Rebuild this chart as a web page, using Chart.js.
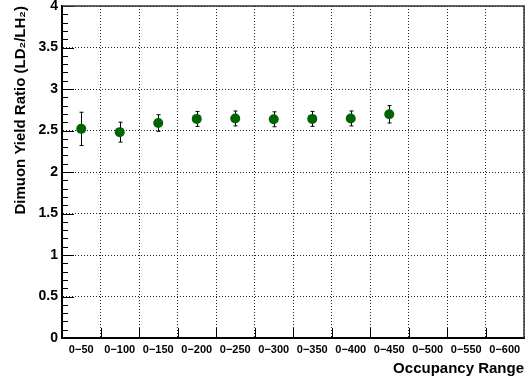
<!DOCTYPE html>
<html>
<head>
<meta charset="utf-8">
<script src="https://cdn.jsdelivr.net/npm/chart.js@4/dist/chart.umd.min.js"></script>
<style>
  html, body { margin: 0; padding: 0; background: #fff; }
  #wrap { width: 532px; height: 378px; }
</style>
</head>
<body>
<div id="wrap"><canvas id="ratio"></canvas></div>
<script>
const ranges = ["0\u221250", "0\u2212100", "0\u2212150", "0\u2212200", "0\u2212250", "0\u2212300",
                "0\u2212350", "0\u2212400", "0\u2212450", "0\u2212500", "0\u2212550", "0\u2212600"];
const yieldRatio = [2.52, 2.48, 2.59, 2.64, 2.645, 2.635, 2.64, 2.645, 2.695];
const ratioErr = [0.20, 0.12, 0.10, 0.09, 0.09, 0.09, 0.09, 0.09, 0.105];

const green = "#006400";
const fontFamily = "'Liberation Sans', Arial, sans-serif";

// ROOT style frame, inner ticks and error bars
const rootFrame = {
  id: "rootFrame",
  beforeDatasetsDraw(chart) {
    const { ctx, chartArea: a, scales: { x, y } } = chart;
    ctx.save();
    ctx.strokeStyle = "#000";
    ctx.lineWidth = 1;
    // y ticks, minor every 0.1
    for (let i = 0; i <= 40; i++) {
      const py = Math.round(y.getPixelForValue(i / 10)) + 0.5;
      const len = i % 5 === 0 ? 12 : 6;
      ctx.beginPath();
      ctx.moveTo(a.left, py);
      ctx.lineTo(a.left + len, py);
      ctx.stroke();
    }
    // x ticks at category edges
    const half = (x.getPixelForValue(1) - x.getPixelForValue(0)) / 2;
    for (let i = 1; i < ranges.length; i++) {
      const px = Math.round(x.getPixelForValue(i) - half) + 0.5;
      ctx.beginPath();
      ctx.moveTo(px, a.bottom);
      ctx.lineTo(px, a.bottom - 10);
      ctx.stroke();
    }
    // top and right frame
    ctx.strokeStyle = "#333";
    ctx.lineWidth = 1.5;
    ctx.beginPath();
    ctx.moveTo(a.left, a.top);
    ctx.lineTo(a.right, a.top);
    ctx.lineTo(a.right, a.bottom);
    ctx.stroke();
    // error bars
    ctx.strokeStyle = "#000";
    ctx.lineWidth = 1;
    yieldRatio.forEach((v, i) => {
      const px = Math.round(x.getPixelForValue(i)) + 0.5;
      const hi = y.getPixelForValue(v + ratioErr[i]);
      const lo = y.getPixelForValue(v - ratioErr[i]);
      ctx.beginPath();
      ctx.moveTo(px, hi);
      ctx.lineTo(px, lo);
      ctx.moveTo(px - 2, hi);
      ctx.lineTo(px + 2, hi);
      ctx.moveTo(px - 2, lo);
      ctx.lineTo(px + 2, lo);
      ctx.stroke();
    });
    ctx.restore();
  }
};

const ctx = document.getElementById("ratio").getContext("2d");
const ratioChart = new Chart(ctx, {
  type: "line",
  data: {
    labels: ranges,
    datasets: [
      {
        label: "LD2/LH2",
        data: yieldRatio,
        showLine: false,
        pointRadius: 5,
        pointHoverRadius: 5,
        pointBackgroundColor: green,
        pointBorderColor: green,
        pointBorderWidth: 0,
      },
    ],
  },
  options: {
    responsive: true,
    maintainAspectRatio: false,
    animation: false,
    devicePixelRatio: 1,
    layout: { padding: { top: 6, right: 8, left: 0, bottom: 0 } },
    plugins: {
      legend: { display: false },
      tooltip: { enabled: false },
    },
    scales: {
      x: {
        type: "category",
        offset: true,
        grid: { offset: true, drawTicks: false, color: "#222", lineWidth: 1 },
        border: { display: true, color: "#000", width: 2, dash: [1, 2] },
        ticks: {
          autoSkip: false,
          maxRotation: 0,
          padding: 5,
          color: "#000",
          font: { family: fontFamily, size: 11, weight: "bold" },
        },
        title: {
          display: true,
          text: "Occupancy Range",
          align: "end",
          color: "#000",
          padding: { top: 3, bottom: 0 },
          font: { family: fontFamily, size: 15, weight: "bold" },
        },
        afterFit(scale) {
          scale.height = 40;
          scale.paddingLeft = 0;
          scale.paddingRight = 0;
        },
      },
      y: {
        min: 0,
        max: 4,
        grid: { drawTicks: false, color: "#222", lineWidth: 1 },
        border: { display: true, color: "#000", width: 2, dash: [1, 2] },
        ticks: {
          stepSize: 0.5,
          padding: 4,
          color: "#000",
          callback: (value) => String(value),
          font: { family: fontFamily, size: 14, weight: "bold" },
        },
        title: {
          display: true,
          text: "Dimuon Yield Ratio (LD\u2082/LH\u2082)",
          align: "end",
          color: "#000",
          padding: { top: 12, bottom: 0 },
          font: { family: fontFamily, size: 15, weight: "bold" },
        },
        afterFit(scale) {
          scale.width = 62;
          scale.paddingTop = 0;
          scale.paddingBottom = 0;
        },
      },
    },
  },
  plugins: [rootFrame],
});
</script>
</body>
</html>
